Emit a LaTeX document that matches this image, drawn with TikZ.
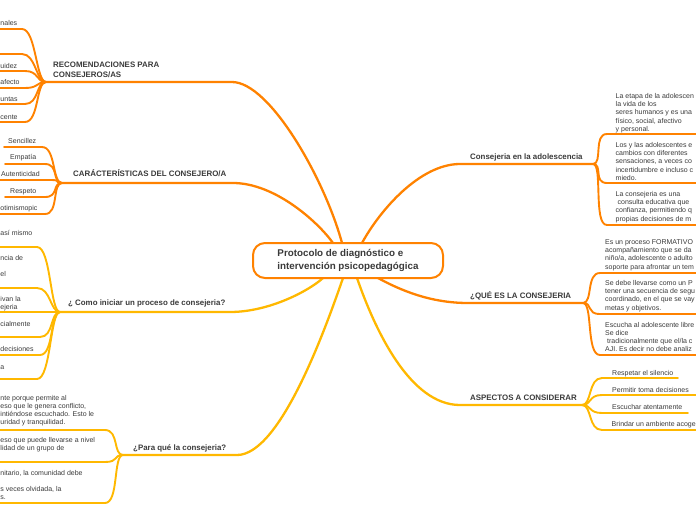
\documentclass[tikz,border=0pt]{standalone}
\usepackage{fontspec}
\setmainfont{Liberation Sans}
\definecolor{org}{HTML}{FF8200}
\definecolor{yel}{HTML}{FFB800}
\definecolor{txt}{HTML}{3A3A3A}
\tikzset{
 br/.style={line width=2.3pt, line cap=round},
 kd/.style={line width=1.9pt, line cap=round},
 ob/.style={br, draw=org}, yb/.style={br, draw=yel},
 ok/.style={kd, draw=org}, yk/.style={kd, draw=yel},
 kt/.style={inner sep=0, anchor=base west, text=txt, font=\fontsize{7}{8.3}\selectfont},
 bt/.style={inner sep=0, anchor=base west, text=txt, font=\fontsize{7.9}{9.2}\selectfont\bfseries},
}
\newcommand\kidL[6]{\coordinate (#1s) at (#3,#5); \coordinate (#1e) at (#4,#5);
 \draw[#2] (#1s) -- (#1e) .. controls +(14,0) and +(-10,0) .. (#6);}
\newcommand\kidR[6]{\coordinate (#1s) at (#3,#5); \coordinate (#1e) at (#4,#5);
 \draw[#2] (#6) .. controls +(10,0) and +(-14,0) .. (#1s) -- (#1e);}
\newcommand\lns[2]{\parbox[t]{#1pt}{\raggedright #2}}
\begin{document}
\begin{tikzpicture}[x=1pt,y=-1pt]
\useasboundingbox (0,0) rectangle (696,520);
% attach points on central node
\coordinate (cRec) at (342,243);
\coordinate (cCar) at (333,243);
\coordinate (cCons) at (362,243);
\coordinate (cCom) at (323,278);
\coordinate (cPar) at (343,278);
\coordinate (cAsp) at (357,278);
\coordinate (cQue) at (378,278);
% ---------- RECOMENDACIONES
\coordinate (jRec) at (46,82); \coordinate (eRec) at (232,82);
\draw[ob] (cRec) .. controls (325,180) and (270,82) .. (eRec) -- (jRec);
\node[bt] (tRec) at (53,67.8) {\lns{150}{RECOMENDACIONES PARA\\CONSEJEROS/AS}};
\kidL{r1}{ok}{0}{22}{29}{jRec}
\kidL{r2}{ok}{0}{22}{54}{jRec}
\kidL{r3}{ok}{0}{25}{71}{jRec}
\kidL{r4}{ok}{0}{25}{88}{jRec}
\kidL{r5}{ok}{0}{25}{104}{jRec}
\kidL{r6}{ok}{0}{25}{122}{jRec}
\node[kt] (tr1) at (0.3,25) {nales};
\node[kt] (tr3) at (0.3,68) {uidez};
\node[kt] (tr4) at (0.3,84.5) {afecto};
\node[kt] (tr5) at (0.3,101) {untas};
\node[kt] (tr6) at (0.3,119) {cente};
% ---------- CARACTERISTICAS
\coordinate (jCar) at (62,183); \coordinate (eCar) at (233,183);
\draw[ob] (cCar) .. controls (318,222) and (275,183) .. (eCar) -- (jCar);
\node[bt] (tCar) at (73,176.8) {CARÁCTERÍSTICAS DEL CONSEJERO/A};
\kidL{k1}{ok}{4}{42}{147}{jCar}
\kidL{k2}{ok}{5}{45}{164}{jCar}
\kidL{k3}{ok}{0}{50}{180}{jCar}
\kidL{k4}{ok}{5}{45}{197}{jCar}
\kidL{k5}{ok}{0}{45}{214}{jCar}
\node[kt] (tk1) at (8,143) {Sencillez};
\node[kt] (tk2) at (10,159.5) {Empatía};
\node[kt] (tk3) at (1,176) {Autenticidad};
\node[kt] (tk4) at (10,193) {Respeto};
\node[kt] (tk5) at (0.3,210) {otimismopic};
% ---------- COMO INICIAR
\coordinate (jCom) at (60,312); \coordinate (eCom) at (230,312);
\draw[yb] (cCom) .. controls (310,290) and (270,312) .. (eCom) -- (jCom);
\node[bt] (tCom) at (68,305.5) {¿ Como iniciar un proceso de consejeria?};
\kidL{m1}{yk}{0}{37}{247}{jCom}
\kidL{m2}{yk}{0}{37}{288}{jCom}
\coordinate (m3s) at (0,312);
\draw[yk] (m3s) -- (jCom);
\kidL{m4}{yk}{0}{40}{337}{jCom}
\kidL{m5}{yk}{0}{40}{355}{jCom}
\kidL{m6}{yk}{0}{37}{379}{jCom}
\node[kt] (tm1) at (0.3,235) {así mismo};
\node[kt] (tm2a) at (0.3,260) {ncia de};
\node[kt] (tm2b) at (0.3,276) {el};
\node[kt] (tm3a) at (0.3,301) {ivan la};
\node[kt] (tm3b) at (0.3,309) {ejeria};
\node[kt] (tm4) at (0.3,326) {cialmente};
\node[kt] (tm5) at (0.3,351) {decisiones};
\node[kt] (tm6) at (0.3,369) {a};
% ---------- PARA QUE
\coordinate (jPar) at (123,455); \coordinate (ePar) at (237,455);
\draw[yb] (cPar) .. controls (325,330) and (280,455) .. (ePar) -- (jPar);
\node[bt] (tPar) at (133,450.5) {¿Para qué la consejeria?};
\kidL{p1}{yk}{0}{105}{430}{jPar}
\kidL{p2}{yk}{0}{105}{462}{jPar}
\kidL{p3}{yk}{0}{105}{503}{jPar}
\node[kt] (tp1) at (0.3,400) {\lns{120}{nte porque permite al\\eso que le genera conflicto,\\intiéndose escuchado. Esto le\\uridad y tranquilidad.}};
\node[kt] (tp2) at (0.3,442) {\lns{120}{eso que puede llevarse a nivel\\lidad de un grupo de}};
\node[kt] (tp3) at (0.3,475) {\lns{120}{nitario, la comunidad debe\\\mbox{}\\s veces olvidada, la\\s.}};
% ---------- CONSEJERIA EN LA ADOLESCENCIA
\coordinate (eCons) at (460,164); \coordinate (jCons) at (593,164);
\draw[ob] (cCons) .. controls (380,210) and (420,164) .. (eCons) -- (jCons);
\node[bt] (tCons) at (470,159.5) {Consejeria en la adolescencia};
\kidR{s1}{ok}{607}{696}{134}{jCons}
\kidR{s2}{ok}{607}{696}{183}{jCons}
\kidR{s3}{ok}{607}{696}{225}{jCons}
\node[kt] (ts1) at (615.5,98.2) {\lns{120}{La etapa de la adolescen\\la vida de los\\seres humanos y es una\\físico, social, afectivo\\y personal.}};
\node[kt] (ts2) at (615.5,147.2) {\lns{120}{Los y las adolescentes e\\cambios con diferentes\\sensaciones, a veces co\\incertidumbre e incluso c\\miedo.}};
\node[kt] (ts3) at (615.5,196.2) {\lns{120}{La consejeria es una\\\hspace*{2pt}consulta educativa que\\confianza, permitiendo q\\propias decisiones de m}};
% ---------- QUE ES
\coordinate (eQue) at (468,303); \coordinate (jQue) at (583,303);
\draw[ob] (cQue) .. controls (400,290) and (430,303) .. (eQue) -- (jQue);
\node[bt] (tQue) at (470,298.8) {¿QUÉ ES LA CONSEJERIA};
\kidR{q1}{ok}{600}{696}{273}{jQue}
\kidR{q2}{ok}{600}{696}{314}{jQue}
\kidR{q3}{ok}{600}{696}{355}{jQue}
\node[kt] (tq1) at (605,244.2) {\lns{120}{Es un proceso FORMATIVO\\acompañamiento que se da\\niño/a, adolescente o adulto\\soporte para afrontar un tem}};
\node[kt] (tq2) at (605,285.2) {\lns{120}{Se debe llevarse como un P\\tener una secuencia de segu\\coordinado, en el que se vay\\metas y objetivos.}};
\node[kt] (tq3) at (605,327) {\lns{120}{Escucha al adolescente libre\\Se dice\\\hspace*{2pt}tradicionalmente que el/la c\\AJI. Es decir no debe analiz}};
% ---------- ASPECTOS
\coordinate (eAsp) at (460,405); \coordinate (jAsp) at (582,405);
\draw[yb] (cAsp) .. controls (375,330) and (410,405) .. (eAsp) -- (jAsp);
\node[bt] (tAsp) at (470,400.8) {ASPECTOS A CONSIDERAR};
\kidR{a1}{yk}{602}{678}{378}{jAsp}
\kidR{a2}{yk}{602}{696}{395}{jAsp}
\kidR{a3}{yk}{602}{688}{413}{jAsp}
\kidR{a4}{yk}{602}{696}{430}{jAsp}
\node[kt] (ta1) at (612,375.2) {Respetar el silencio};
\node[kt] (ta2) at (612,392.2) {Permitir toma decisiones};
\node[kt] (ta3) at (612,409.5) {Escuchar atentamente};
\node[kt] (ta4) at (611.5,426.2) {Brindar un ambiente acoge};
% ---------- CENTRAL NODE
\node[draw=org, line width=2pt, fill=white, rounded corners=12pt,
      minimum width=190pt, minimum height=35pt, inner sep=0, align=left,
      text=txt, font=\fontsize{9.8}{13}\selectfont\bfseries] (c) at (348,260.5)
      {Protocolo de diagnóstico e\\intervención psicopedagógica};
\end{tikzpicture}
\end{document}
